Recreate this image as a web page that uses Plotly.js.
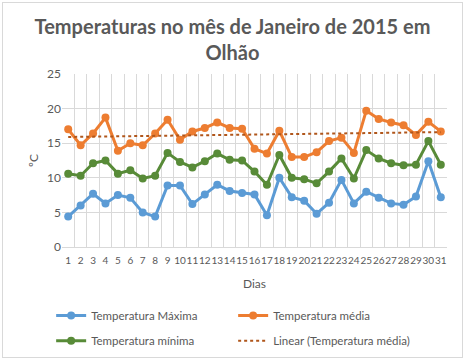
<!DOCTYPE html>
<html>
<head>
<meta charset="utf-8">
<script src="https://cdn.plot.ly/plotly-3.0.1.min.js"></script>
<style>
html,body{margin:0;padding:0;background:#fff;}
#wrap{position:relative;width:465px;height:360px;}
#chart{width:465px;height:360px;}
#frame{position:absolute;left:2px;top:2px;width:459px;height:354px;border:1px solid #d9d9d9;pointer-events:none;}
</style>
</head>
<body>
<div id="wrap"><div id="chart"></div><div id="frame"></div></div>
<script>
const dias = [1,2,3,4,5,6,7,8,9,10,11,12,13,14,15,16,17,18,19,20,21,22,23,24,25,26,27,28,29,30,31];
const diasLabels = ["1","2","3","4","5","6","7","8","9","10","11","12","13","14","15","16","17","18","19","20","21","22","23","24","25","26","27","28","29","30","31"];
const tempMaxima = [4.4,6.0,7.7,6.3,7.5,7.1,5.0,4.4,8.9,8.9,6.2,7.6,9.0,8.1,7.8,7.6,4.6,10.0,7.2,6.7,4.8,6.4,9.7,6.3,8.0,7.1,6.3,6.1,7.3,12.4,7.2];
const tempMedia = [17.0,14.7,16.4,18.7,13.9,15.0,14.7,16.4,18.4,15.5,16.7,17.2,18.0,17.2,17.1,14.2,13.5,16.8,13.0,13.0,13.7,15.3,15.8,13.6,19.7,18.5,18.0,17.6,16.2,18.1,16.7];
const tempMinima = [10.6,10.3,12.1,12.5,10.6,11.1,9.9,10.3,13.6,12.3,11.5,12.4,13.5,12.6,12.5,10.9,9.0,13.3,10.0,9.8,9.2,10.9,12.8,9.9,14.0,12.8,12.1,11.8,11.9,15.3,11.9];
const trendX = [1,31];
const trendY = [15.9,16.6];

const font = "Lato, 'Open Sans', sans-serif";
const grey = "#595959";

const traces = [
  {x: dias, y: tempMaxima, name: "Temperatura Máxima", type: "scatter", mode: "lines+markers", legend: "legend",
   line: {color: "#5B9BD5", width: 3}, marker: {color: "#5B9BD5", size: 8}},
  {x: dias, y: tempMedia, name: "Temperatura média", type: "scatter", mode: "lines+markers", legend: "legend",
   line: {color: "#ED7D31", width: 3}, marker: {color: "#ED7D31", size: 8}},
  {x: dias, y: tempMinima, name: "Temperatura mínima", type: "scatter", mode: "lines+markers", legend: "legend2",
   line: {color: "#588B38", width: 3}, marker: {color: "#588B38", size: 8}},
  {x: trendX, y: trendY, name: "Linear (Temperatura média)", type: "scatter", mode: "lines", legend: "legend2",
   line: {color: "#B0561B", width: 2, dash: "dot"}},
  {x: [], y: [], xaxis: "x2", yaxis: "y", type: "scatter", mode: "lines", showlegend: false, hoverinfo: "skip"}
];

const legendCommon = {orientation: "h", xref: "container", yref: "container", x: 0.11, xanchor: "left", yanchor: "top",
  entrywidth: 137, entrywidthmode: "pixels", traceorder: "normal", bgcolor: "rgba(0,0,0,0)",
  font: {family: font, size: 11.5, color: grey}, itemwidth: 30};

const layout = {
  width: 465, height: 360,
  paper_bgcolor: "#fff", plot_bgcolor: "#fff",
  margin: {l: 62, r: 18, t: 74, b: 113, autoexpand: false},
  font: {family: font, color: grey, size: 11},
  title: {text: "<b>Temperaturas no mês de Janeiro de 2015 em<br>Olhão</b>",
          font: {family: font, size: 20, color: grey}, x: 0.5, xanchor: "center",
          xref: "container", yref: "container", y: 0.906, yanchor: "middle", automargin: false},
  xaxis: {range: [0.5, 31.5], tickmode: "linear", tick0: 0.5, dtick: 1, showgrid: true, gridcolor: "#d9d9d9", gridwidth: 1,
          showticklabels: false, ticks: "", zeroline: false, showline: false, automargin: false, fixedrange: true},
  xaxis2: {overlaying: "x", anchor: "y", side: "bottom", range: [0.5, 31.5], tickmode: "array",
           tickvals: dias, ticktext: diasLabels, showgrid: false, zeroline: false, ticks: "",
           showline: true, linecolor: "#d9d9d9", tickangle: 0, automargin: false, ticklabelstandoff: 4,
           tickfont: {family: font, size: 10, color: grey}, fixedrange: true,
           title: {text: "Dias", font: {family: font, size: 12, color: grey}, standoff: 14}},
  yaxis: {range: [0, 25], dtick: 5, showgrid: true, gridcolor: "#d9d9d9", zeroline: false, automargin: false,
          ticks: "", tickfont: {family: font, size: 12, color: grey}, fixedrange: true,
          title: {text: "ºC", font: {family: font, size: 12, color: grey}, standoff: 5}},
  showlegend: true,
  legend: Object.assign({}, legendCommon, {y: 0.164}),
  legend2: Object.assign({}, legendCommon, {y: 0.094})
};

Plotly.newPlot("chart", traces, layout, {displayModeBar: false, staticPlot: true});
</script>
</body>
</html>
